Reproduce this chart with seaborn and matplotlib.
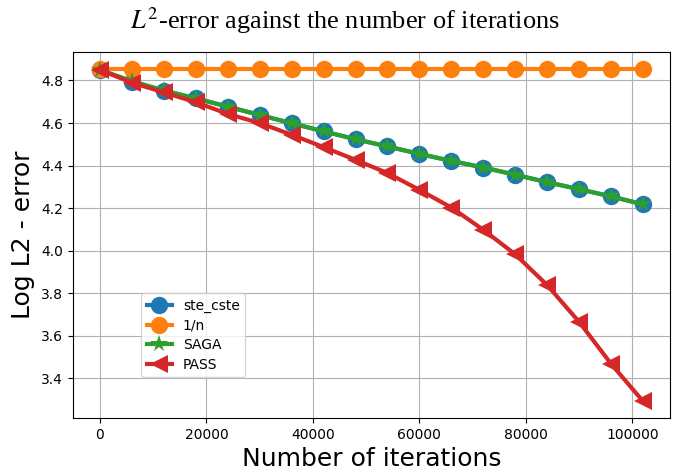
import numpy as np
import pandas as pd
import matplotlib
matplotlib.use("Agg")
import matplotlib.pyplot as plt
import seaborn as sns

iterations = [0, 6000, 12000, 18000, 24000, 30000, 36000, 42000, 48000, 54000,
              60000, 66000, 72000, 78000, 84000, 90000, 96000, 102000]
ste_cste = [4.850, 4.795, 4.752, 4.716, 4.677, 4.638, 4.599, 4.561, 4.524, 4.490,
            4.455, 4.422, 4.391, 4.357, 4.322, 4.289, 4.255, 4.218]
one_over_n = [4.855] * 18
saga = [4.850, 4.797, 4.753, 4.716, 4.677, 4.638, 4.599, 4.561, 4.524, 4.490,
        4.455, 4.422, 4.391, 4.357, 4.322, 4.289, 4.255, 4.218]
pass_ = [4.850, 4.790, 4.744, 4.698, 4.643, 4.600, 4.545, 4.487, 4.427, 4.365,
         4.286, 4.203, 4.098, 3.983, 3.838, 3.665, 3.468, 3.292]

series_names = ["ste_cste", "1/n", "SAGA", "PASS"]
series_vals = [ste_cste, one_over_n, saga, pass_]
markers = ["o", "o", "*", "<"]
colors = ["#1f77b4", "#ff7f0e", "#2ca02c", "#d62728"]

plt.rcParams["mathtext.fontset"] = "stix"

fig = plt.figure(figsize=(6.73, 4.74), dpi=100)
ax = fig.add_axes([0.108, 0.118, 0.888, 0.772])

for name, vals, m, c in zip(series_names, series_vals, markers, colors):
    df = pd.DataFrame({"x": iterations, "y": vals})
    sns.lineplot(data=df, x="x", y="y", ax=ax, marker=m, color=c, label=name,
                 linewidth=3, markersize=12.5 if m != "*" else 13,
                 markeredgewidth=0, markeredgecolor=c)

ax.grid(True, color="#b0b0b0", linewidth=0.8)
ax.set_axisbelow(True)
ax.set_xlabel("Number of iterations", fontsize=18)
ax.set_ylabel("Log L2 - error", fontsize=18)
ax.set_yticks([3.4, 3.6, 3.8, 4.0, 4.2, 4.4, 4.6, 4.8])
ax.tick_params(labelsize=10)
fig.suptitle(r"$L^2$-error against the number of iterations",
             fontsize=19, family="Liberation Serif", x=0.512, y=0.988, va="top")
ax.legend(loc="lower left", bbox_to_anchor=(0.103, 0.093), numpoints=1,
          fontsize=10, framealpha=0.8, labelspacing=0.4, handlelength=1.8)
fig.savefig("out.png", dpi=100)
